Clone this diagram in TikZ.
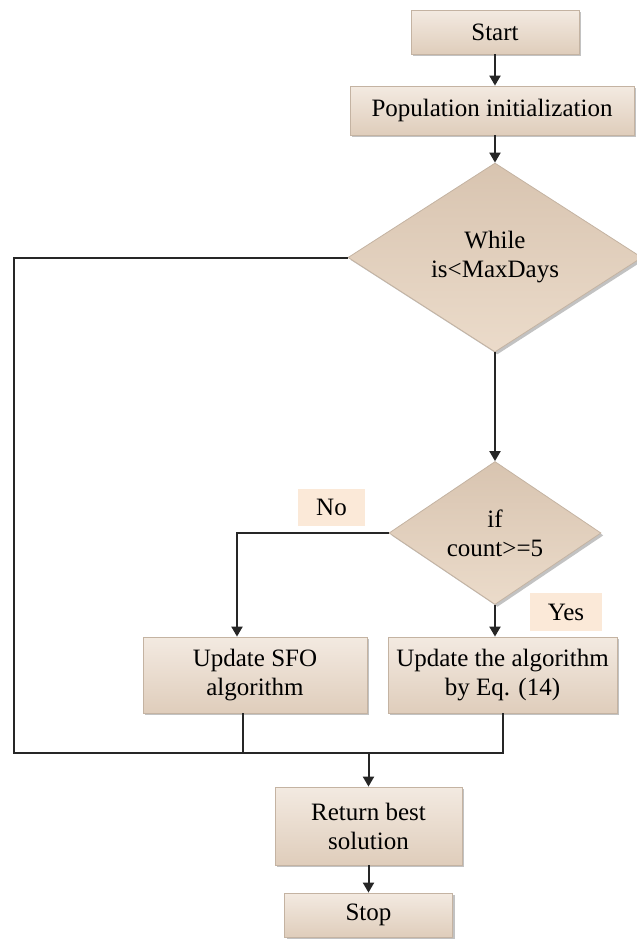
\documentclass[tikz,border=0pt]{standalone}
\usepackage{fontspec}
\setmainfont{Liberation Serif}
\usetikzlibrary{positioning, shapes.geometric, arrows.meta, shadows}
\definecolor{boxtop}{HTML}{F3EAE1}
\definecolor{boxbot}{HTML}{DFCDBB}
\definecolor{boxline}{HTML}{C4B3A2}
\definecolor{dtop}{HTML}{D8C4B0}
\definecolor{dbot}{HTML}{EBDBCA}
\definecolor{tagfill}{HTML}{FBE9D8}
\definecolor{wire}{HTML}{262626}
\tikzset{
	stepbox/.style={rectangle, draw=boxline, line width=0.4pt, top color=boxtop, bottom color=boxbot,
		drop shadow={shadow xshift=1.2pt, shadow yshift=-1.2pt, fill=black!40, opacity=0.6},
		align=center, inner sep=0pt, font=\fontsize{12.5}{14.5}\selectfont}
}
\tikzset{
	testbox/.style={diamond, aspect=1.5, draw=boxline, line width=0.4pt, top color=dtop, bottom color=dbot,
		drop shadow={shadow xshift=1.2pt, shadow yshift=-1.2pt, fill=black!40, opacity=0.6},
		align=center, inner sep=0pt, font=\fontsize{12.5}{14.5}\selectfont}
}
\tikzset{
	tagbox/.style={rectangle, fill=tagfill, inner sep=0pt, font=\fontsize{12.5}{14.5}\selectfont}
}
\tikzset{
	flow/.style={draw=wire, line width=1pt},
	flowarr/.style={flow, -{Triangle[length=5pt, width=5.5pt]}}
}

\begin{document}
\begin{tikzpicture}[x=0.5pt, y=-0.5pt]
      \useasboundingbox (0,0) rectangle (637,939);
      \node[stepbox, minimum width=84pt, minimum height=22pt] (start) at (495,32) {Start};
      \node[stepbox, minimum width=142pt, minimum height=24.5pt] (pop) at (492,110.5) {Population initialization};
      \node[testbox, minimum width=147pt, minimum height=94.5pt] (while) at (495,257.5) {While\\is<MaxDays};
      \node[testbox, minimum width=106pt, minimum height=71.5pt] (if) at (495,533) {if\\count>=5};
      \node[stepbox, minimum width=112pt, minimum height=38pt] (sfo) at (255,675) {Update SFO\\algorithm};
      \node[stepbox, minimum width=114.5pt, minimum height=38pt] (alg) at (502.5,675) {Update the algorithm\\by Eq. (14)};
      \node[stepbox, minimum width=93.5pt, minimum height=39pt] (ret) at (368.5,826) {Return best\\solution};
      \node[stepbox, minimum width=84pt, minimum height=22pt] (stop) at (368.5,915) {Stop};
      \node[tagbox, minimum width=33.5pt, minimum height=18.5pt] (nolbl) at (331.5,507.5) {No};
      \node[tagbox, minimum width=36pt, minimum height=19pt] (yeslbl) at (566,612) {Yes};
      \coordinate (lft) at (14,753);
      \coordinate (join) at (ret.north |- lft);
      \draw[flowarr] (start) -- (start |- pop.north);
      \draw[flowarr] (start |- pop.south) -- (while);
      \draw[flowarr] (while) -- (if);
      \draw[flowarr] (if.west) -| ([xshift=-9pt]sfo.north);
      \draw[flowarr] (if.south) -- (if.south |- alg.north);
      % loop back and merge
      \draw[flow] (while.west) -| (lft) -- (lft -| alg.south) -- (alg.south);
      \draw[flow] ([xshift=-6pt]sfo.south) -- ([xshift=-6pt]sfo.south |- lft);
      \draw[flowarr] (join) -- (ret);
      \draw[flowarr] (ret) -- (stop);
\end{tikzpicture}
\end{document}
